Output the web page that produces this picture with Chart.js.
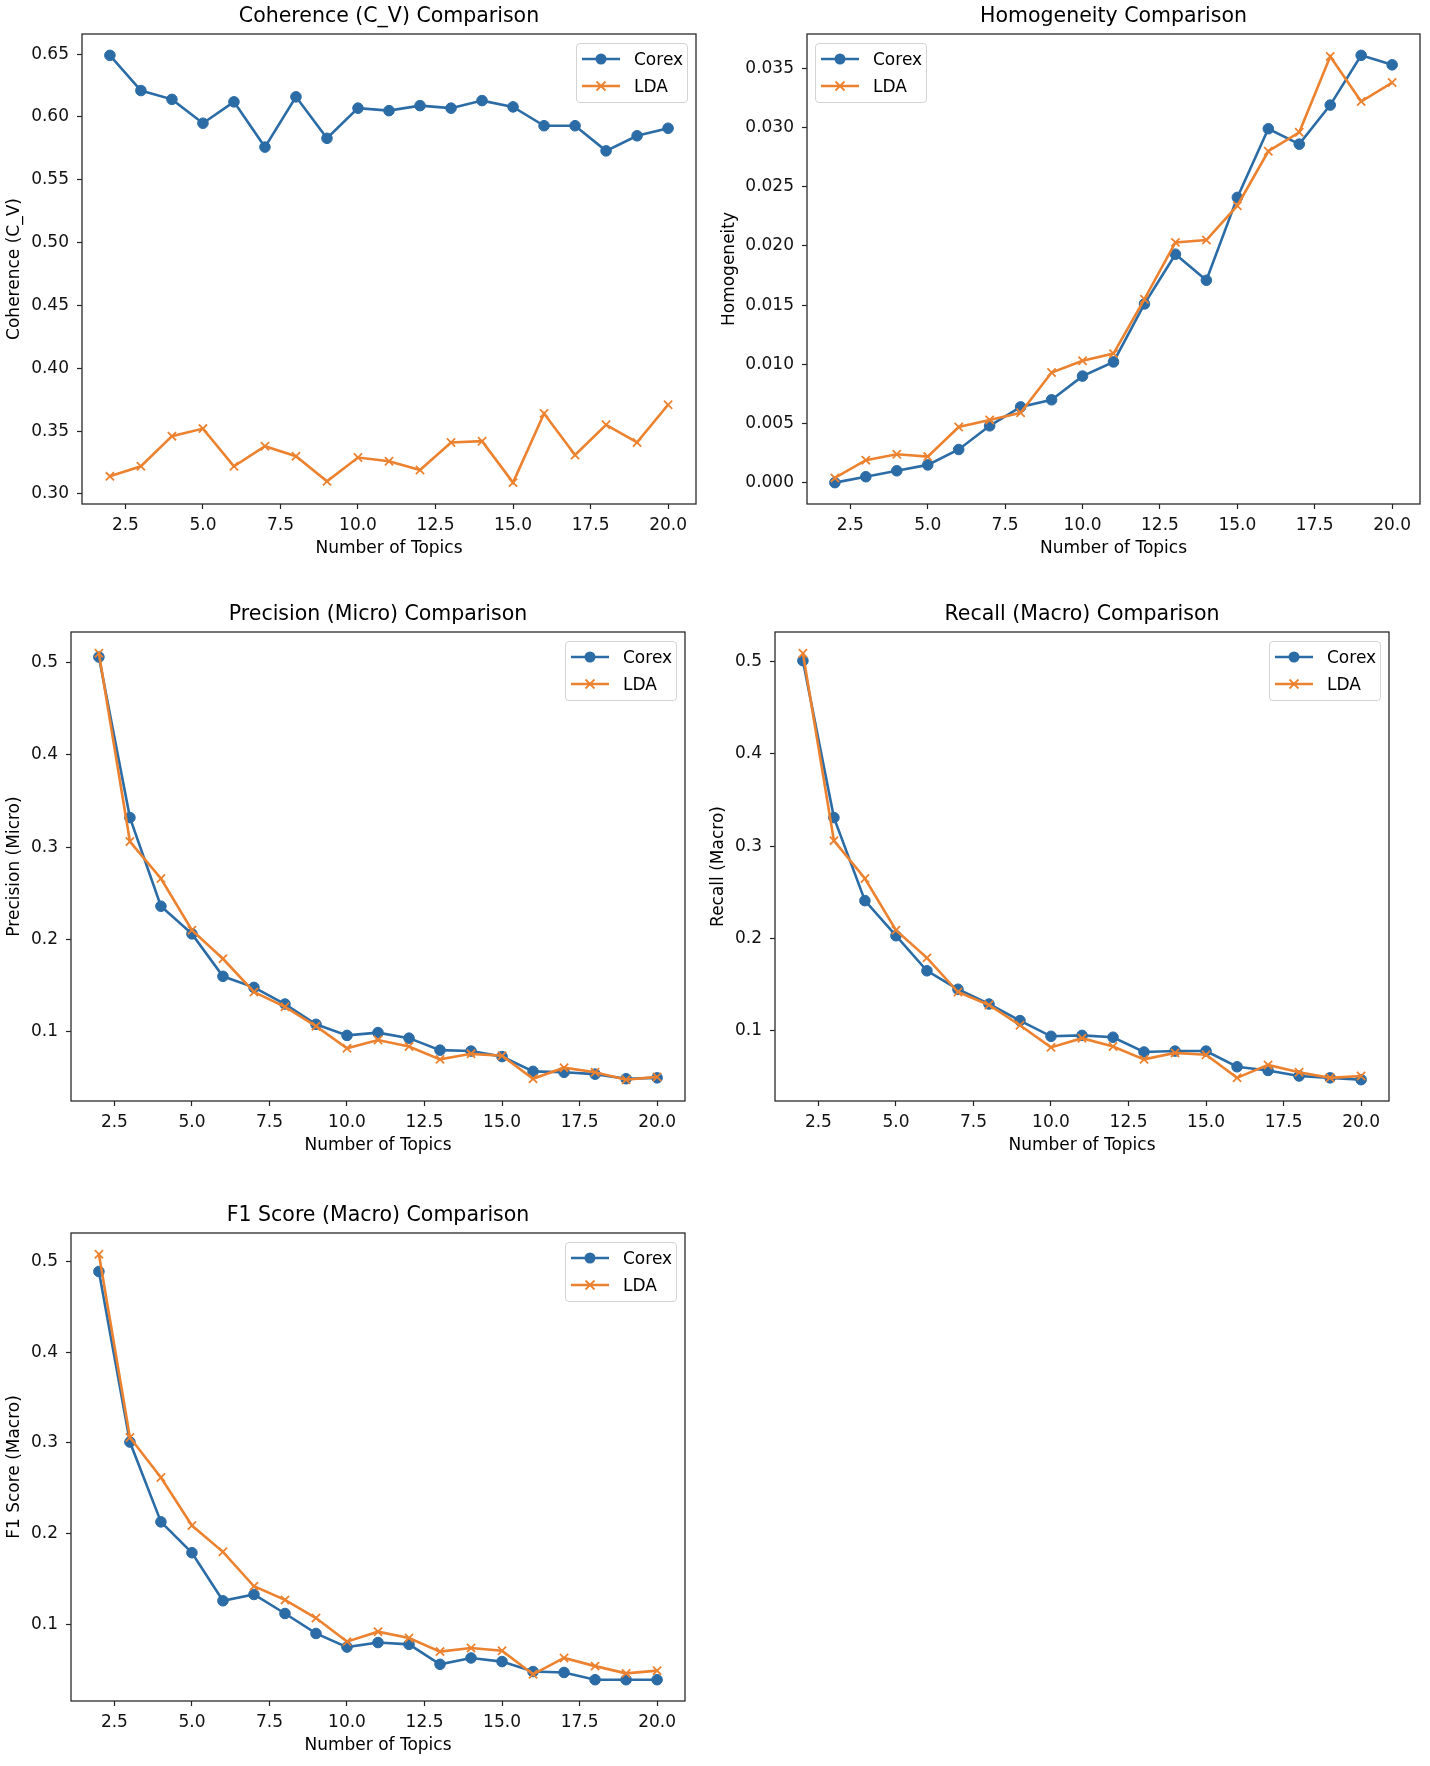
<!DOCTYPE html>
<html>
<head>
<meta charset="utf-8">
<script src="https://cdn.jsdelivr.net/npm/chart.js@4.4.1/dist/chart.umd.min.js"></script>
<style>
html, body { margin: 0; padding: 0; background: #fff; }
body { width: 1430px; height: 1766px; position: relative; overflow: hidden; font-family: "DejaVu Sans", sans-serif; }
canvas { position: absolute; }
.legend { position: absolute; box-sizing: border-box; width: 112px; height: 60px; border: 1px solid #d3d3d3; border-radius: 4px; background: rgba(255,255,255,0.85); font-size: 17px; color: #000; }
.legend .row { position: absolute; left: 5px; height: 20px; display: flex; align-items: center; white-space: nowrap; }
.legend svg { display: block; }
.legend span { margin-left: 14px; line-height: 20px; }
</style>
</head>
<body>
<script>
// ---------------- data ----------------
const topics = [2, 3, 4, 5, 6, 7, 8, 9, 10, 11, 12, 13, 14, 15, 16, 17, 18, 19, 20];

const coherenceCorex = [0.649, 0.621, 0.614, 0.595, 0.612, 0.576, 0.616, 0.583, 0.607, 0.605, 0.609, 0.607, 0.613, 0.608, 0.593, 0.593, 0.573, 0.585, 0.591];
const coherenceLDA   = [0.314, 0.322, 0.346, 0.352, 0.322, 0.338, 0.330, 0.310, 0.329, 0.326, 0.319, 0.341, 0.342, 0.309, 0.364, 0.331, 0.355, 0.341, 0.371];

const homogeneityCorex = [0.0000, 0.0005, 0.0010, 0.0015, 0.0028, 0.0048, 0.0064, 0.0070, 0.0090, 0.0102, 0.0151, 0.0193, 0.0171, 0.0241, 0.0299, 0.0286, 0.0319, 0.0361, 0.0353];
const homogeneityLDA   = [0.0004, 0.0019, 0.0024, 0.0022, 0.0047, 0.0053, 0.0059, 0.0093, 0.0103, 0.0109, 0.0155, 0.0203, 0.0205, 0.0234, 0.0280, 0.0296, 0.0360, 0.0322, 0.0338];

const precisionCorex = [0.506, 0.332, 0.236, 0.206, 0.160, 0.148, 0.130, 0.108, 0.096, 0.099, 0.093, 0.080, 0.079, 0.073, 0.057, 0.056, 0.054, 0.049, 0.050];
const precisionLDA   = [0.510, 0.306, 0.266, 0.210, 0.179, 0.143, 0.127, 0.106, 0.082, 0.091, 0.084, 0.070, 0.076, 0.074, 0.049, 0.061, 0.056, 0.048, 0.051];

const recallCorex = [0.501, 0.331, 0.241, 0.203, 0.165, 0.145, 0.129, 0.111, 0.094, 0.095, 0.093, 0.077, 0.078, 0.078, 0.061, 0.057, 0.051, 0.049, 0.047];
const recallLDA   = [0.509, 0.306, 0.265, 0.209, 0.179, 0.142, 0.128, 0.106, 0.082, 0.092, 0.083, 0.069, 0.076, 0.074, 0.049, 0.063, 0.055, 0.049, 0.051];

const f1Corex = [0.489, 0.301, 0.213, 0.179, 0.126, 0.133, 0.112, 0.090, 0.075, 0.080, 0.078, 0.056, 0.063, 0.059, 0.048, 0.047, 0.039, 0.039, 0.039];
const f1LDA   = [0.508, 0.306, 0.262, 0.209, 0.180, 0.142, 0.127, 0.107, 0.081, 0.092, 0.085, 0.070, 0.074, 0.071, 0.045, 0.063, 0.054, 0.046, 0.049];

const xTickValues = [2.5, 5.0, 7.5, 10.0, 12.5, 15.0, 17.5, 20.0];
const coherenceTicks = [0.30, 0.35, 0.40, 0.45, 0.50, 0.55, 0.60, 0.65];
const homogeneityTicks = [0.000, 0.005, 0.010, 0.015, 0.020, 0.025, 0.030, 0.035];
const scoreTicks = [0.1, 0.2, 0.3, 0.4, 0.5];

const seriesNames = ['Corex', 'LDA'];
const xAxisTitle = 'Number of Topics';

// ---------------- style ----------------
const FONT = '"DejaVu Sans", sans-serif';
const BLUE = '#2c6ca6';
const ORANGE = '#ec8230';
const TXT = '#111';

const framePlugin = {
  id: 'frame',
  afterDraw(chart) {
    const { ctx, chartArea: a } = chart;
    ctx.save();
    ctx.strokeStyle = '#2a2a2a';
    ctx.lineWidth = 1.3;
    ctx.strokeRect(a.left, a.top, a.right - a.left, a.bottom - a.top);
    ctx.restore();
  }
};

const panels = [
  { title: 'Coherence (C_V) Comparison', ylabel: 'Coherence (C_V)', corex: coherenceCorex, lda: coherenceLDA, ticks: coherenceTicks, dec: 2,
    left: 0, top: 0, yw: 82, pw: 614, ph: 470, legend: 'right' },
  { title: 'Homogeneity Comparison', ylabel: 'Homogeneity', corex: homogeneityCorex, lda: homogeneityLDA, ticks: homogeneityTicks, dec: 3,
    left: 715, top: 0, yw: 92, pw: 613, ph: 470, legend: 'left' },
  { title: 'Precision (Micro) Comparison', ylabel: 'Precision (Micro)', corex: precisionCorex, lda: precisionLDA, ticks: scoreTicks, dec: 1,
    left: 0, top: 598, yw: 71, pw: 614, ph: 469, legend: 'right' },
  { title: 'Recall (Macro) Comparison', ylabel: 'Recall (Macro)', corex: recallCorex, lda: recallLDA, ticks: scoreTicks, dec: 1,
    left: 704, top: 598, yw: 71, pw: 614, ph: 469, legend: 'right' },
  { title: 'F1 Score (Macro) Comparison', ylabel: 'F1 Score (Macro)', corex: f1Corex, lda: f1LDA, ticks: scoreTicks, dec: 1,
    left: 0, top: 1199, yw: 71, pw: 614, ph: 468, legend: 'right' }
];

const TITLE_H = 34, XAXIS_H = 55, RIGHT_PAD = 10;

function legendSwatch(kind) {
  const col = kind === 'Corex' ? BLUE : ORANGE;
  let marker;
  if (kind === 'Corex') {
    marker = `<circle cx="19" cy="8" r="5.5" fill="${col}"/>`;
  } else {
    marker = `<line x1="14.5" y1="3.5" x2="23.5" y2="12.5" stroke="${col}" stroke-width="1.8"/><line x1="14.5" y1="12.5" x2="23.5" y2="3.5" stroke="${col}" stroke-width="1.8"/>`;
  }
  return `<svg width="38" height="16" viewBox="0 0 38 16"><line x1="0" y1="8" x2="38" y2="8" stroke="${col}" stroke-width="2.6"/>${marker}</svg>`;
}

function makeLegend(p) {
  const plotLeft = p.left + p.yw;
  const plotTop = p.top + TITLE_H;
  const d = document.createElement('div');
  d.className = 'legend';
  const lx = p.legend === 'right' ? plotLeft + p.pw - 8 - 112 : plotLeft + 8;
  d.style.left = lx + 'px';
  d.style.top = (plotTop + 9) + 'px';
  d.innerHTML = seriesNames.map((n, i) =>
    `<div class="row" style="top:${5 + i * 27}px">${legendSwatch(n)}<span>${n}</span></div>`).join('');
  document.body.appendChild(d);
}

function makeChart(p) {
  const w = p.yw + p.pw + RIGHT_PAD;
  const h = TITLE_H + p.ph + XAXIS_H;
  const c = document.createElement('canvas');
  c.width = w; c.height = h;
  c.style.left = p.left + 'px';
  c.style.top = p.top + 'px';
  c.style.width = w + 'px';
  c.style.height = h + 'px';
  document.body.appendChild(c);

  const all = p.corex.concat(p.lda);
  const lo = Math.min(...all), hi = Math.max(...all), m = (hi - lo) * 0.05;
  const xlo = Math.min(...topics), xhi = Math.max(...topics), xm = (xhi - xlo) * 0.05;
  const font = { family: FONT, size: 17 };

  new Chart(c, {
    type: 'line',
    data: {
      datasets: [
        { label: seriesNames[0], data: topics.map((t, i) => ({ x: t, y: p.corex[i] })),
          borderColor: BLUE, backgroundColor: BLUE, pointBackgroundColor: BLUE, pointBorderColor: BLUE,
          pointStyle: 'circle', pointRadius: 5.3, pointBorderWidth: 1, borderWidth: 2.6, tension: 0, order: 2, fill: false },
        { label: seriesNames[1], data: topics.map((t, i) => ({ x: t, y: p.lda[i] })),
          borderColor: ORANGE, backgroundColor: ORANGE, pointBorderColor: ORANGE,
          pointStyle: 'crossRot', pointRadius: 5.8, pointBorderWidth: 1.8, borderWidth: 2.6, tension: 0, order: 1, fill: false }
      ]
    },
    options: {
      responsive: false,
      animation: false,
      devicePixelRatio: 1,
      layout: { padding: { left: 0, right: RIGHT_PAD, top: 0, bottom: 0 } },
      plugins: {
        legend: { display: false },
        tooltip: { enabled: false },
        title: { display: true, fullSize: false, text: p.title, color: '#000', font: { family: FONT, size: 20.5, weight: 'normal' }, padding: { top: 4, bottom: 5.4 } }
      },
      scales: {
        x: {
          type: 'linear', min: xlo - xm, max: xhi + xm,
          afterBuildTicks: s => { s.ticks = xTickValues.map(v => ({ value: v })); },
          afterFit: s => { s.height = XAXIS_H; },
          ticks: { callback: v => Number(v).toFixed(1), font, color: TXT, padding: 6, maxRotation: 0, autoSkip: false },
          grid: { display: true, drawOnChartArea: false, tickLength: 5, tickColor: '#222', tickWidth: 1.2 },
          border: { display: false },
          title: { display: true, text: xAxisTitle, color: '#000', font, padding: { top: 0, bottom: 0 } }
        },
        y: {
          type: 'linear', min: lo - m, max: hi + m,
          afterBuildTicks: s => { s.ticks = p.ticks.map(v => ({ value: v })); },
          afterFit: s => { s.width = p.yw; },
          ticks: { callback: v => Number(v).toFixed(p.dec), font, color: TXT, padding: 8, autoSkip: false },
          grid: { display: true, drawOnChartArea: false, tickLength: 5, tickColor: '#222', tickWidth: 1.2 },
          border: { display: false },
          title: { display: true, text: p.ylabel, color: '#000', font, padding: { top: 4, bottom: 0 } }
        }
      }
    },
    plugins: [framePlugin]
  });
  makeLegend(p);
}

panels.forEach(makeChart);
</script>
</body>
</html>
